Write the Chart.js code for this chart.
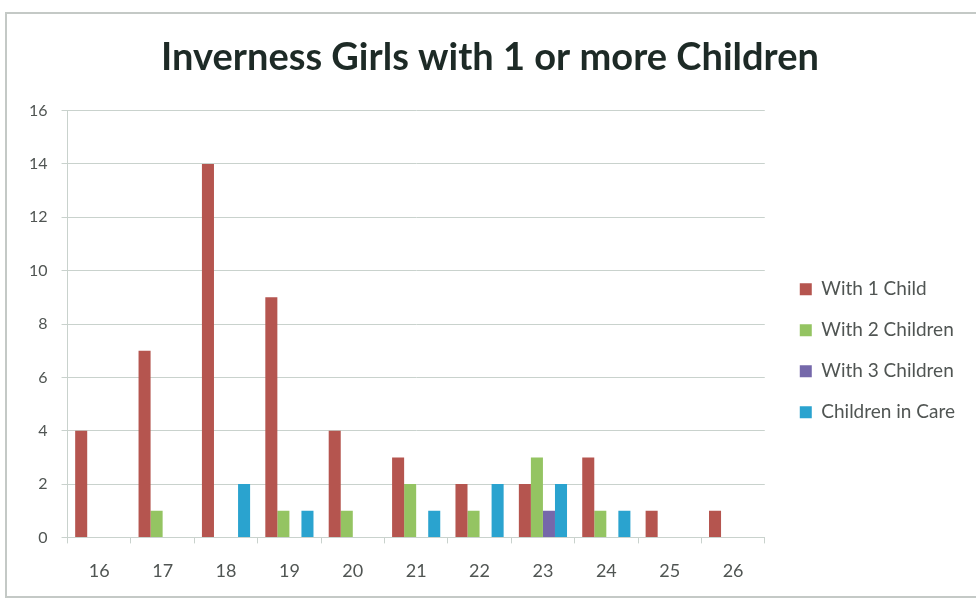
<!DOCTYPE html>
<html>
<head>
<meta charset="utf-8">
<script src="https://cdn.jsdelivr.net/npm/chart.js@4/dist/chart.umd.min.js"></script>
<style>
  body { margin: 0; background: #fff; }
  #wrap { width: 976px; height: 599px; }
</style>
</head>
<body>
<div id="wrap"><canvas id="chart" width="976" height="599"></canvas></div>
<script>
// ages along the x axis
const ages = ["16", "17", "18", "19", "20", "21", "22", "23", "24", "25", "26"]
const withOneChild = [4, 7, 14, 9, 4, 3, 2, 2, 3, 1, 1]
const withTwoChildren = [0, 1, 0, 1, 1, 2, 1, 3, 1, 0, 0]
const withThreeChildren = [0, 0, 0, 0, 0, 0, 0, 1, 0, 0, 0]
const childrenInCare = [0, 0, 2, 1, 0, 1, 2, 2, 1, 0, 0]

const gridColor = "#c9d2cd"
const textColor = "#505553"

// light frame round the whole chart, like the scanned excel box
const framePlugin = {
  id: "frame",
  beforeDraw(chart) {
    const c = chart.ctx
    c.save()
    c.fillStyle = "#fff"
    c.fillRect(0, 0, chart.width, chart.height)
    c.strokeStyle = "#c4c9c6"
    c.lineWidth = 2
    c.strokeRect(6, 13, chart.width, chart.height - 15)
    c.restore()
  },
}

const ctx = document.getElementById("chart").getContext("2d")
const myChart = new Chart(ctx, {
  type: "bar",
  data: {
    labels: ages,
    datasets: [
      { label: "With 1 Child", data: withOneChild, backgroundColor: "#b5554f" },
      { label: "With 2 Children", data: withTwoChildren, backgroundColor: "#94c462" },
      { label: "With 3 Children", data: withThreeChildren, backgroundColor: "#7568aa" },
      { label: "Children in Care", data: childrenInCare, backgroundColor: "#2aa3cf" },
    ],
  },
  options: {
    responsive: false,
    animation: false,
    categoryPercentage: 0.76,
    barPercentage: 1,
    layout: { padding: { left: 15, right: 11, top: 0, bottom: 0 } },
    plugins: {
      title: {
        display: true,
        text: "Inverness Girls with 1 or more Children",
        color: "#1d2a26",
        font: { family: "Lato", size: 38, weight: "bold" },
        padding: { top: 35, bottom: 30 },
      },
      legend: {
        position: "right",
        maxWidth: 220,
        // empty title only pushes the items down a little
        title: { display: true, text: "", padding: { top: 88, bottom: 0 } },
        labels: {
          color: textColor,
          font: { family: "Lato", size: 19 },
          boxWidth: 12,
          boxHeight: 12,
          padding: 22,
        },
      },
      tooltip: { enabled: false },
    },
    scales: {
      x: {
        grid: { display: true, drawOnChartArea: false, color: gridColor, tickLength: 6, offset: true },
        border: { color: gridColor },
        ticks: { color: textColor, font: { family: "Lato", size: 18 }, padding: 17 },
      },
      y: {
        min: 0,
        max: 16,
        grid: { color: gridColor, tickLength: 6 },
        border: { color: gridColor },
        ticks: { stepSize: 2, color: textColor, font: { family: "Lato", size: 16 }, padding: 14 },
      },
      // blank axis, just a gap between plot and legend
      gap: {
        position: "right",
        display: true,
        grid: { display: false },
        border: { display: false },
        ticks: { display: false },
        afterFit(scale) {
          scale.width = 13
        },
      },
    },
  },
  plugins: [framePlugin],
})
</script>
</body>
</html>
